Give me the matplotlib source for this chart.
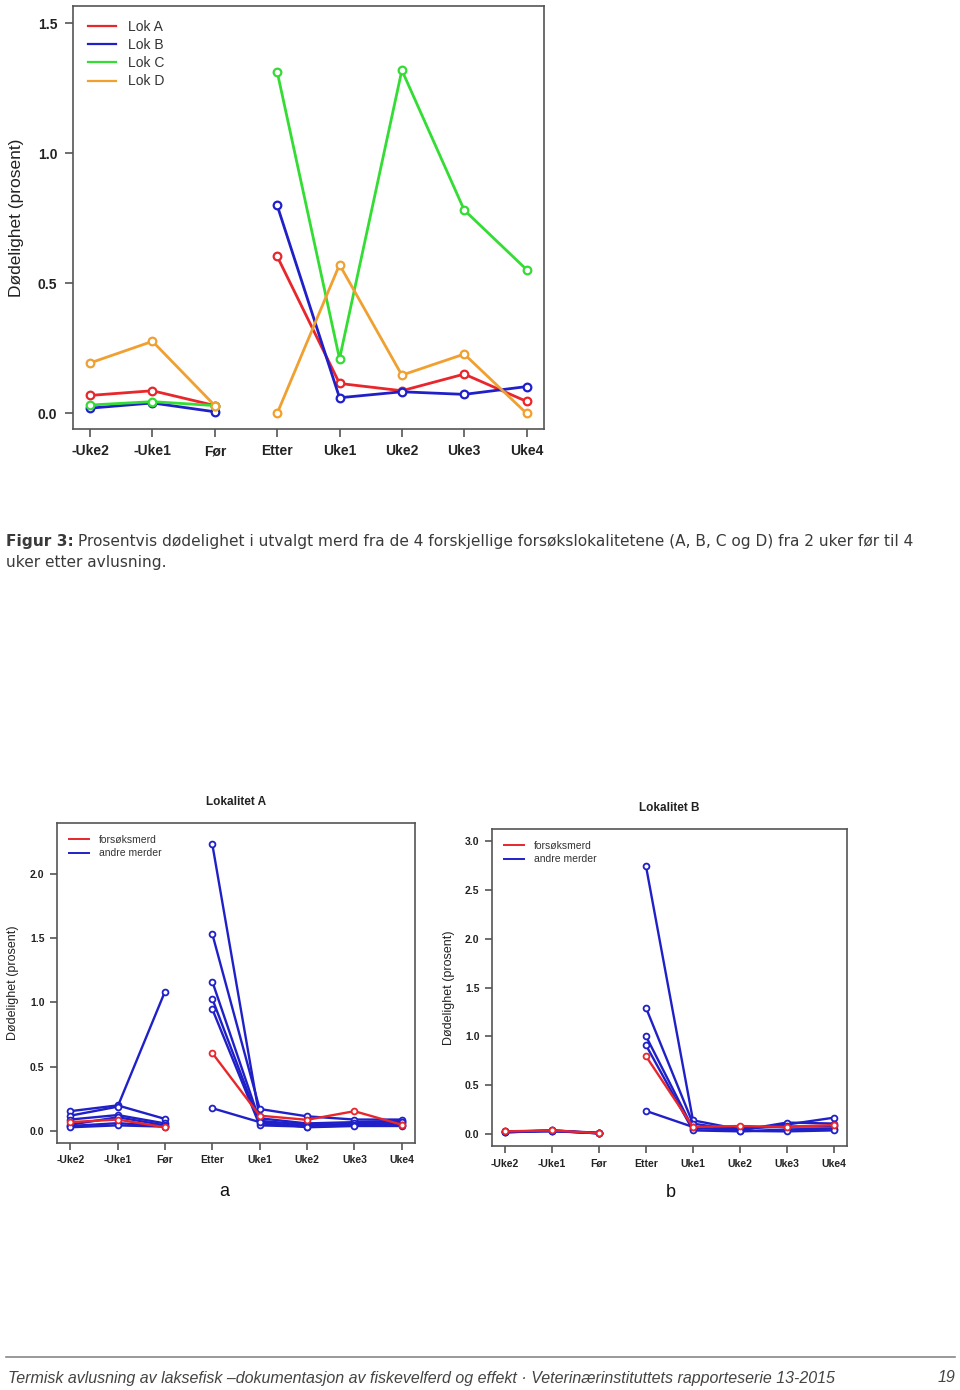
import matplotlib
matplotlib.use("Agg")
import matplotlib.pyplot as plt
import numpy as np

plt.rcParams['font.family'] = ['Liberation Sans', 'DejaVu Sans']

# x categories (same for all three panels)
weeks = ["-Uke2", "-Uke1", "Før", "Etter", "Uke1", "Uke2", "Uke3", "Uke4"]

# Top panel: mortality per site
lok_a = [0.069, 0.087, 0.030, 0.604, 0.115, 0.087, 0.151, 0.046]
lok_b = [0.020, 0.040, 0.006, 0.800, 0.060, 0.083, 0.073, 0.103]
lok_c = [0.032, 0.045, 0.030, 1.314, 0.210, 1.320, 0.782, 0.553]
lok_d = [0.194, 0.277, 0.030, 0.000, 0.572, 0.147, 0.228, 0.000]
top_series = [("Lok A", lok_a, "#e8262b"), ("Lok B", lok_b, "#2020c8"),
              ("Lok C", lok_c, "#33dd33"), ("Lok D", lok_d, "#f0a030")]

# Lokalitet A: test cage and other cages
a_test = [0.070, 0.090, 0.030, 0.606, 0.120, 0.088, 0.155, 0.050]
a_other = [
    [0.155, 0.200, 0.095, 2.226, 0.100, 0.060, 0.070, 0.080],
    [0.120, 0.190, 1.084, 1.530, 0.172, 0.115, 0.090, 0.090],
    [0.090, 0.125, 0.060, 1.161, 0.080, 0.050, 0.050, 0.060],
    [0.050, 0.108, 0.045, 1.027, 0.060, 0.040, 0.060, 0.070],
    [0.040, 0.062, 0.040, 0.947, 0.045, 0.035, 0.045, 0.050],
    [0.030, 0.045, 0.035, 0.178, 0.070, 0.030, 0.040, 0.040],
]

# Lokalitet B
b_test = [0.030, 0.040, 0.012, 0.798, 0.075, 0.085, 0.075, 0.095]
b_other = [
    [0.020, 0.035, 0.010, 2.738, 0.143, 0.050, 0.100, 0.170],
    [0.025, 0.040, 0.015, 1.292, 0.109, 0.040, 0.120, 0.110],
    [0.030, 0.035, 0.010, 1.002, 0.058, 0.060, 0.080, 0.080],
    [0.020, 0.040, 0.010, 0.910, 0.040, 0.030, 0.050, 0.058],
    [0.030, 0.030, 0.015, 0.239, 0.075, 0.035, 0.030, 0.040],
]

RED = "#e8262b"
BLUE = "#2020c8"
GRAY = "#555555"
x = np.arange(len(weeks))


def draw(ax, vals, color, lw, ms, mew):
    # before and after treatment are drawn as separate pieces
    for sl in (slice(0, 3), slice(3, 8)):
        ax.plot(x[sl], vals[sl], color=color, lw=lw, marker="o", ms=ms,
                mfc="white", mec=color, mew=mew, solid_capstyle="butt")


def style(ax, ylim, yticks, fs, ylab_fs):
    ax.set_xlim(-0.28, 7.28)
    ax.set_ylim(*ylim)
    ax.set_xticks(x)
    ax.set_xticklabels(weeks, fontweight="bold", fontsize=fs, color="#222222")
    ax.set_yticks(yticks)
    ax.set_yticklabels([f"{v:.1f}" for v in yticks], fontweight="bold",
                       fontsize=fs, color="#222222")
    for s in ax.spines.values():
        s.set_color(GRAY)
        s.set_linewidth(1.2)
    ax.tick_params(direction="out", color=GRAY, width=1.2, length=6, pad=5)
    ax.set_ylabel("Dødelighet (prosent)", fontsize=ylab_fs, color="#222222")


fig = plt.figure(figsize=(9.6, 13.9), dpi=100)

# top chart
ax = fig.add_axes([0.0757, 0.6914, 0.4910, 0.3043])
for name, vals, col in top_series:
    draw(ax, vals, col, 2.0, 5.5, 1.6)
style(ax, (-0.06, 1.567), [0.0, 0.5, 1.0, 1.5], 10, 12.5)
ax.yaxis.set_label_coords(-0.103, 0.5)
handles = [plt.Line2D([], [], color=c, lw=1.6) for _, _, c in top_series]
ax.legend(handles, [n for n, _, _ in top_series], loc="upper left",
          bbox_to_anchor=(0.012, 0.99), frameon=False, fontsize=10,
          handlelength=2.0, handletextpad=0.85, labelspacing=0.3,
          borderpad=0.2, labelcolor="#333333")

# caption
cap_color = "#3a3a3a"
cap_font = ['DejaVu Sans']
t = fig.text(6 / 960, 1 - 542 / 1390, "Figur 3:", fontsize=11.1,
             fontweight="bold", color=cap_color, va="center", family=cap_font)
fig.canvas.draw()
bb = t.get_window_extent()
fig.text(bb.x1 / 960 + 0.004, 1 - 542 / 1390,
         "Prosentvis dødelighet i utvalgt merd fra de 4 forskjellige "
         "forsøkslokalitetene (A, B, C og D) fra 2 uker før til 4",
         fontsize=11.1, color=cap_color, va="center", family=cap_font)
fig.text(6 / 960, 1 - 562 / 1390, "uker etter avlusning.", fontsize=11.1,
         color=cap_color, va="center", family=cap_font)

# bottom panels
panels = [
    ([0.0594, 0.1777, 0.3729, 0.2302], a_test, a_other, (-0.092, 2.392),
     [0.0, 0.5, 1.0, 1.5, 2.0], "Lokalitet A", "a", 13, (0.466, -0.153)),
    ([0.5125, 0.1755, 0.3698, 0.2281], b_test, b_other, (-0.12, 3.12),
     [0.0, 0.5, 1.0, 1.5, 2.0, 2.5, 3.0], "Lokalitet B", "b", 13,
     (0.504, -0.145)),
]
for pos, test, others, ylim, yt, title, letter, tpad, lpos in panels:
    axb = fig.add_axes(pos)
    for vals in others:
        draw(axb, vals, BLUE, 1.7, 4.2, 1.3)
    draw(axb, test, RED, 1.7, 4.2, 1.3)
    style(axb, ylim, yt, 7.5, 9)
    axb.tick_params(length=5, pad=4)
    axb.yaxis.set_label_coords(-0.105, 0.5)
    axb.set_title(title, fontsize=8.5, fontweight="bold", color="#222222",
                  pad=tpad)
    h = [plt.Line2D([], [], color=RED, lw=1.4),
         plt.Line2D([], [], color=BLUE, lw=1.4)]
    axb.legend(h, ["forsøksmerd", "andre merder"], loc="upper left",
               bbox_to_anchor=(0.012, 0.985), frameon=False, fontsize=7.5,
               handlelength=2.0, handletextpad=0.95, labelspacing=0.3,
               borderpad=0.2, labelcolor="#333333")
    axb.text(lpos[0], lpos[1], letter, transform=axb.transAxes, fontsize=13,
             ha="center", va="center", color="#111111")

# footer
fig.add_artist(plt.Line2D([6 / 960, 955 / 960], [1 - 1357 / 1390] * 2,
                          color="#888888", lw=1.2))
fig.text(8 / 960, 1 - 1378 / 1390,
         "Termisk avlusning av laksefisk –dokumentasjon av fiskevelferd og "
         "effekt · Veterinærinstituttets rapporteserie 13-2015",
         fontsize=11.5, style="italic", color="#444444", va="center")
fig.text(955 / 960, 1 - 1378 / 1390, "19", fontsize=11.5, style="italic",
         color="#444444", va="center", ha="right")

fig.savefig("out.png", dpi=100, facecolor="white")
